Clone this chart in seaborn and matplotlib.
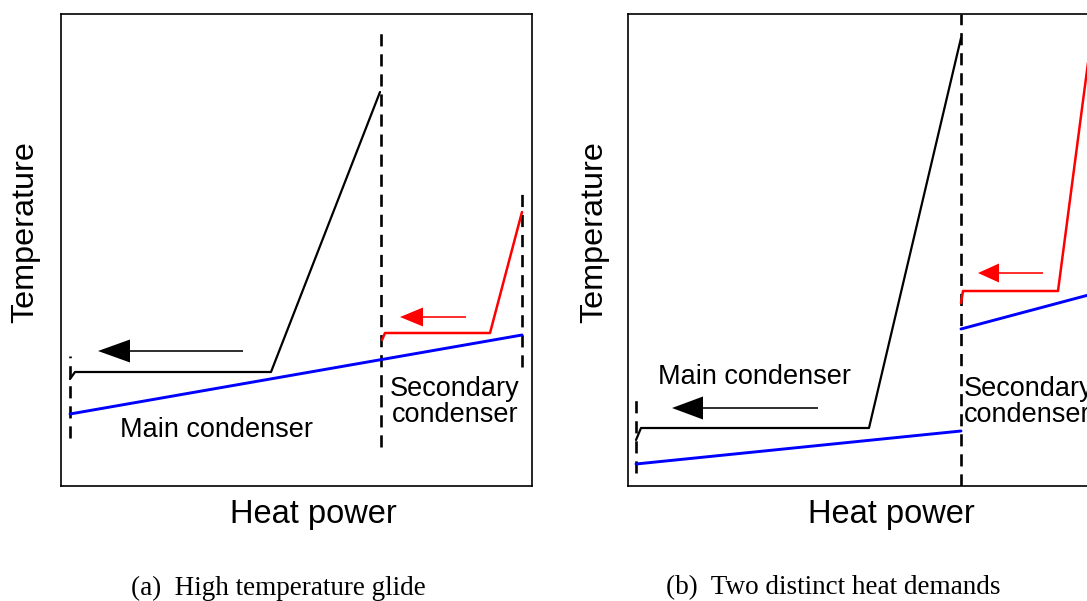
import matplotlib
matplotlib.use("Agg")
import matplotlib.pyplot as plt
import seaborn as sns

# ---------------- data (units: arbitrary heat power / temperature) ----------------
# Panel (a): high temperature glide
a_black_x = [9, 14, 210, 319]
a_black_y = [107, 114, 114, 394]
a_blue_x = [9, 461]
a_blue_y = [72, 151]
a_red_x = [321, 324, 429, 461]
a_red_y = [146, 153, 153, 274]
a_vlines = [(9, 48, 130), (320, 39, 456), (461, 119, 298)]
a_black_arrow = (182, 37, 135)   # x_start, x_end, y
a_red_arrow = (405, 339, 169)

# Panel (b): two distinct heat demands
b_black_x = [8, 13, 241, 333]
b_black_y = [46, 58, 58, 448]
b_blue1_x = [8, 333]
b_blue1_y = [22, 55]
b_blue2_x = [333, 468]
b_blue2_y = [157, 193]
b_red_x = [333, 335, 430, 463]
b_red_y = [183, 195, 195, 446]
b_vlines = [(8, 13, 91), (333, 0, 472)]
b_black_arrow = (190, 44, 78)
b_red_arrow = (415, 350, 213)

labels_main = "Main condenser"
labels_sec = "Secondary\ncondenser"
xlabel = "Heat power"
ylabel = "Temperature"
captions = ["(a)  High temperature glide", "(b)  Two distinct heat demands"]

# ---------------- figure ----------------
sns.set_theme(style="white")
plt.rcParams["font.family"] = ["Liberation Sans", "DejaVu Sans"]
plt.rcParams["text.color"] = "black"
plt.rcParams["axes.labelcolor"] = "black"

W, H = 1087, 601
fig = plt.figure(figsize=(W / 100, H / 100), dpi=100)

def make_ax(left_px):
    ax = fig.add_axes([left_px / W, (H - 486) / H, 471 / W, 472 / H])
    ax.set_xlim(0, 471)
    ax.set_ylim(0, 472)
    ax.set_xticks([])
    ax.set_yticks([])
    for s in ax.spines.values():
        s.set_color("black")
        s.set_linewidth(1.2)
    return ax

axa = make_ax(61)
axb = make_ax(628)

DASH = (0, (4.6, 3.0))

def line(ax, xs, ys, color, lw):
    sns.lineplot(x=xs, y=ys, sort=False, estimator=None, color=color,
                 linewidth=lw, ax=ax, legend=False)

def vdash(ax, spec):
    x, y0, y1 = spec
    sns.lineplot(x=[x, x], y=[y0, y1], sort=False, estimator=None,
                 color="black", linewidth=1.9, linestyle=DASH, ax=ax)

def arrow(ax, spec, color, hw, hl):
    x0, x1, y = spec
    ax.arrow(x0, y, x1 - x0, 0, width=1.6, head_width=hw, head_length=hl,
             length_includes_head=True, color=color, lw=0)

# panel a
for v in a_vlines:
    vdash(axa, v)
line(axa, a_blue_x, a_blue_y, "#0000ff", 2.1)
line(axa, a_black_x, a_black_y, "black", 1.6)
line(axa, a_red_x, a_red_y, "#ff0000", 1.8)
arrow(axa, a_black_arrow, "black", 23, 32)
arrow(axa, a_red_arrow, "#ff0000", 19, 23)
axa.text(156, 56, labels_main, ha="center", va="center", fontsize=19.5)
axa.text(394, 84, labels_sec, ha="center", va="center", fontsize=19.5,
         linespacing=1.05)

# panel b
for v in b_vlines:
    vdash(axb, v)
line(axb, b_blue1_x, b_blue1_y, "#0000ff", 2.1)
line(axb, b_blue2_x, b_blue2_y, "#0000ff", 2.1)
line(axb, b_black_x, b_black_y, "black", 1.6)
line(axb, b_red_x, b_red_y, "#ff0000", 1.8)
arrow(axb, b_black_arrow, "black", 23, 31)
arrow(axb, b_red_arrow, "#ff0000", 19, 21)
axb.text(126, 109, labels_main, ha="center", va="center", fontsize=19.5)
axb.text(336, 84, labels_sec, ha="left", va="center", fontsize=19.5,
         linespacing=1.05)

# axis labels and captions (figure pixel positions)
def ftext(x, y, s, **kw):
    fig.text(x / W, 1 - y / H, s, color="black", **kw)

ftext(25, 232, ylabel, rotation=90, ha="center", va="center", fontsize=23.3)
ftext(594, 232, ylabel, rotation=90, ha="center", va="center", fontsize=23.3)
ftext(313, 514, xlabel, ha="center", va="center", fontsize=23.5)
ftext(891, 514, xlabel, ha="center", va="center", fontsize=23.5)
ftext(278, 588, captions[0], ha="center", va="center", fontsize=19.5,
      family=["Liberation Serif", "DejaVu Serif"])
ftext(833, 588, captions[1], ha="center", va="center", fontsize=19.5,
      family=["Liberation Serif", "DejaVu Serif"])

fig.savefig("out.png", dpi=100)
